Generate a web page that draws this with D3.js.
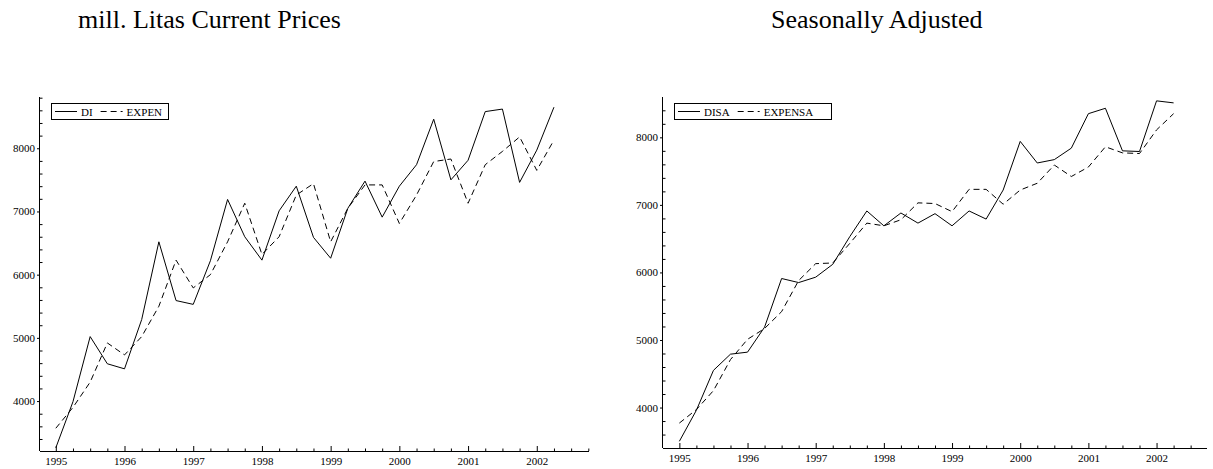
<!DOCTYPE html>
<html>
<head>
<meta charset="utf-8">
<script src="https://cdn.jsdelivr.net/npm/d3@7"></script>
<style>
body { margin: 0; background: #fff; }
svg { font-family: "Liberation Serif", "DejaVu Serif", serif; }
</style>
</head>
<body>
<svg id="chart" width="1213" height="469"></svg>
<script>
// quarters 1995Q1 .. 2002Q2, as fractional years
const quarters = d3.range(30).map(i => 1995 + i / 4);
const yearTicks = [1995, 1996, 1997, 1998, 1999, 2000, 2001, 2002];

const DI = [3260, 3990, 5020, 4590, 4510, 5290, 6520, 5590, 5530, 6220,
  7190, 6600, 6230, 7010, 7400, 6590, 6260, 7050, 7480, 6910,
  7400, 7740, 8460, 7500, 7810, 8580, 8620, 7460, 7970, 8650];
const EXPEN = [3570, 3900, 4300, 4920, 4730, 5020, 5500, 6230, 5790, 6000,
  6520, 7130, 6320, 6600, 7260, 7440, 6520, 7050, 7420, 7420,
  6810, 7260, 7790, 7830, 7130, 7740, 7950, 8180, 7650, 8130];
const DISA = [3500, 3960, 4550, 4790, 4820, 5190, 5910, 5850, 5930, 6120,
  6530, 6910, 6690, 6880, 6730, 6870, 6690, 6910, 6790, 7220,
  7940, 7620, 7670, 7840, 8350, 8430, 7800, 7790, 8540, 8510];
const EXPENSA = [3770, 3970, 4250, 4710, 5010, 5170, 5420, 5880, 6130, 6140,
  6430, 6730, 6690, 6780, 7030, 7020, 6900, 7230, 7230, 7010,
  7220, 7320, 7590, 7420, 7560, 7860, 7770, 7760, 8110, 8350];
const yTicks = [4000, 5000, 6000, 7000, 8000];

const svg = d3.select("#chart");

function panel(opt) {
  const x = d3.scaleLinear().domain(opt.xdom).range([opt.left, opt.right]);
  const y = d3.scaleLinear().domain(opt.ydom).range([opt.bottom, opt.top]);
  const g = svg.append("g");

  // title
  svg.append("text")
    .attr("x", opt.titleX).attr("y", 28)
    .style("font-size", "26px")
    .text(opt.title);

  // x axis: minor quarter ticks, then major years
  const minor = d3.range(Math.ceil(opt.xdom[0] * 4), Math.floor(opt.xdom[1] * 4) + 1)
    .map(d => d / 4).filter(d => d % 1 !== 0);
  g.append("g")
    .attr("transform", `translate(0,${opt.bottom})`)
    .call(d3.axisTop(x).tickValues(minor).tickSize(2.5).tickFormat(""))
    .call(a => a.select(".domain").remove());
  g.append("g")
    .attr("transform", `translate(0,${opt.bottom})`)
    .call(d3.axisBottom(x).tickValues(yearTicks).tickSize(0).tickPadding(6).tickFormat(d3.format("d")))
    .attr("font-family", null).attr("font-size", 11)
    .call(a => a.select(".domain").attr("d", `M${opt.left},0.5H${opt.right}`));
  g.append("g")
    .attr("transform", `translate(0,${opt.bottom})`)
    .call(d3.axisTop(x).tickValues(yearTicks).tickSize(5).tickFormat(""))
    .call(a => a.select(".domain").remove());

  // y axis
  const yminor = d3.range(Math.ceil(opt.ydom[0] / 200) * 200, opt.ydom[1], 200)
    .filter(d => d % 1000 !== 0);
  g.append("g")
    .attr("transform", `translate(${opt.left},0)`)
    .call(d3.axisRight(y).tickValues(yminor).tickSize(2.5).tickFormat(""))
    .call(a => a.select(".domain").remove());
  g.append("g")
    .attr("transform", `translate(${opt.left},0)`)
    .call(d3.axisLeft(y).tickValues(yTicks).tickSize(3).tickPadding(2).tickFormat(d3.format("d")))
    .attr("font-family", null).attr("font-size", 11)
    .call(a => a.select(".domain").attr("d", `M-0.5,${opt.bottom}V${opt.top}`));
  g.selectAll(".tick line").attr("stroke", "#000");

  // series
  const line = vals => d3.line().x((d, i) => x(quarters[i])).y(d => y(d))(vals);
  g.append("path").attr("d", line(opt.s1)).attr("fill", "none")
    .attr("stroke", "#000").attr("stroke-width", 1);
  g.append("path").attr("d", line(opt.s2)).attr("fill", "none")
    .attr("stroke", "#000").attr("stroke-width", 1).attr("stroke-dasharray", "6,4");

  // legend
  const lg = g.append("g").attr("transform", `translate(${opt.left + 11},103)`);
  lg.append("rect").attr("x", 0.5).attr("y", 0.5).attr("width", opt.legW).attr("height", 16)
    .attr("fill", "#fff").attr("stroke", "#000");
  lg.append("line").attr("x1", 4).attr("x2", 26).attr("y1", 8.5).attr("y2", 8.5).attr("stroke", "#000");
  const t1 = lg.append("text").attr("x", 30).attr("y", 12.5).style("font-size", "11px").text(opt.n1);
  const w1 = t1.node().getComputedTextLength();
  lg.append("line").attr("x1", 30 + w1 + 8).attr("x2", 30 + w1 + 30).attr("y1", 8.5).attr("y2", 8.5)
    .attr("stroke", "#000").attr("stroke-dasharray", "6,4");
  lg.append("text").attr("x", 30 + w1 + 34).attr("y", 12.5).style("font-size", "11px").text(opt.n2);
}

panel({
  title: "mill. Litas Current Prices", titleX: 78,
  left: 40, right: 589, top: 97, bottom: 451,
  xdom: [1994.77, 2002.76], ydom: [3210, 8811],
  s1: DI, s2: EXPEN, n1: "DI", n2: "EXPEN", legW: 117
});
panel({
  title: "Seasonally Adjusted", titleX: 771,
  left: 663, right: 1207, top: 97, bottom: 448,
  xdom: [1994.76, 2002.74], ydom: [3401, 8597],
  s1: DISA, s2: EXPENSA, n1: "DISA", n2: "EXPENSA", legW: 157
});
</script>
</body>
</html>
